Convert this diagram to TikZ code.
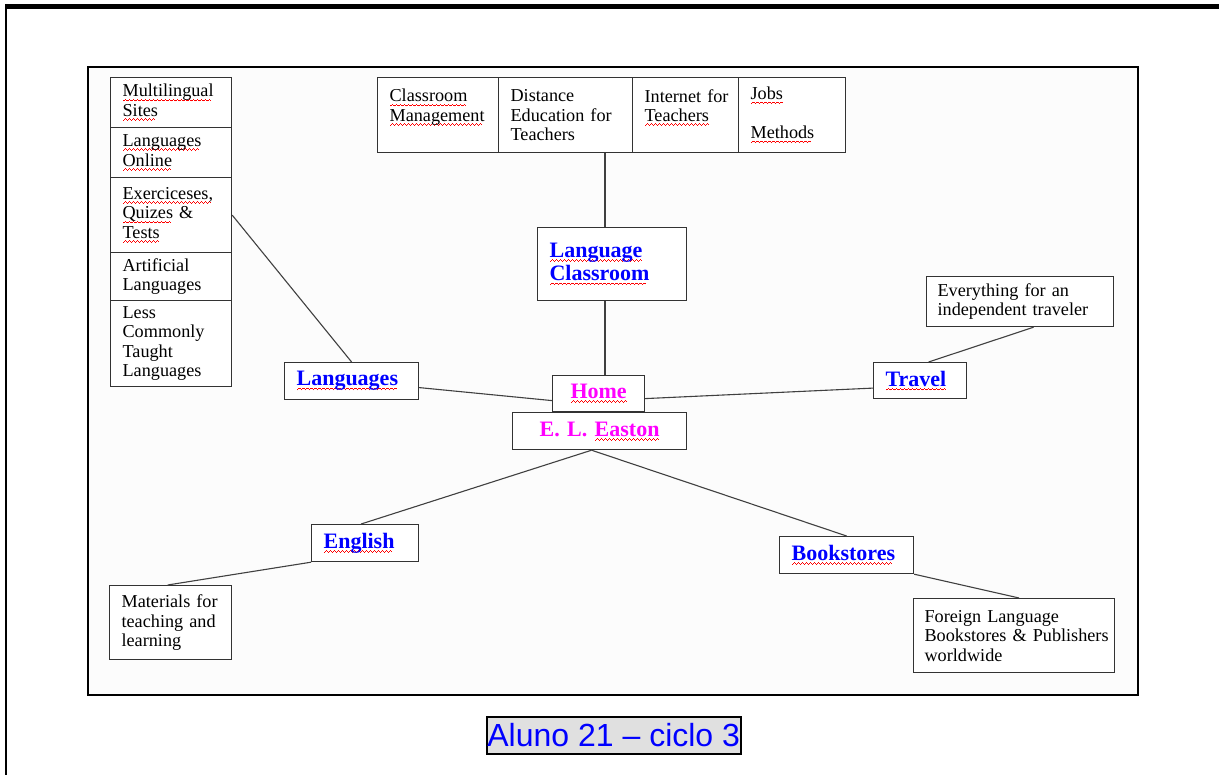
\documentclass[tikz,border=0pt]{standalone}
\usepackage{fontspec}
\setmainfont{Liberation Serif}
\newfontfamily\capfont{Liberation Sans}
\usetikzlibrary{calc}
% red wavy underline (spell-check mark), built from small rules
\newsavebox\sqbox
\newcommand\wavecell{\hbox{%
  \rule[-4.4pt]{1pt}{1pt}\rule[-3.6pt]{1pt}{1pt}\rule[-2.8pt]{1pt}{1pt}\rule[-3.6pt]{1pt}{1pt}}}
\newcommand\sq[1]{\leavevmode\sbox\sqbox{#1}%
  \rlap{\hbox to\wd\sqbox{\color{red}\leaders\wavecell\hfil}}\usebox\sqbox}
\newcommand\smallfont{\fontsize{18.2}{19.5}\selectfont}
\newcommand\labfont{\fontsize{22}{23.5}\selectfont\bfseries}
\definecolor{linkblue}{RGB}{0,0,255}
\definecolor{homemag}{RGB}{255,0,255}
\begin{document}
\begin{tikzpicture}[x=1pt,y=-1pt,
  box/.style={draw=black!80, line width=1.2pt, fill=white, inner xsep=12pt,
    inner ysep=0pt, anchor=north west, align=left, font=\smallfont},
  lab/.style={box, font=\labfont, text=linkblue},
  hub/.style={box, font=\labfont, text=homemag, align=center},
  link/.style={draw=black!75, line width=1.1pt},
  caption/.style={draw=black, line width=2pt, fill=black!12, inner sep=0pt,
    minimum width=254pt, minimum height=37.6pt, anchor=north west,
    font=\capfont\fontsize{32}{34}\selectfont, text=linkblue}]
\useasboundingbox (0,0) rectangle (1219,775);
% page edges
\fill (5,4) rectangle (1219,9);
\draw[line width=2pt] (6,4) -- (6,775);
% frame of the map
\draw[line width=2pt, fill=white!99!black] (88,67) rectangle (1138,695);

% left stack of language topics
\node[box, text width=97pt, minimum height=50pt] (ls1) at (110,77) {\sq{Multilingual}\\\sq{Sites}};
\node[box, text width=97pt, minimum height=50pt] (ls2) at (110,127) {\sq{Languages}\\\sq{Online}};
\node[box, text width=97pt, minimum height=75pt] (ls3) at (110,177) {\sq{Exerciceses,}\\\sq{Quizes} \&\\\sq{Tests}};
\node[box, text width=97pt, minimum height=48pt] (ls4) at (110,252) {Artificial\\Languages};
\node[box, text width=97pt, minimum height=86pt] (ls5) at (110,300) {Less\\Commonly\\Taught\\Languages};

% top row of classroom topics
\node[box, text width=97pt, minimum height=75pt] (t1) at (377,77) {\sq{Classroom}\\\sq{Management}\\\mbox{}};
\node[box, text width=110pt, minimum height=75pt] (t2) at (498,77) {Distance\\Education~for\\Teachers};
\node[box, text width=82pt, minimum height=75pt] (t3) at (632,77) {\mbox{Internet for}\\\sq{Teachers}\\\mbox{}};
\node[box, text width=83pt, minimum height=75pt] (t4) at (738,77) {\sq{Jobs}\\\mbox{}\\\sq{Methods}};

% main labels
\node[lab, text width=125pt, minimum height=73pt] (lc) at (537,227) {\sq{Language}\\\sq{Classroom}};
\node[hub, text width=68pt, minimum height=36pt] (home) at (552,375) {\sq{Home}};
\node[hub, text width=150pt, minimum height=37pt] (easton) at (512,412) {E.~L.~\sq{Easton}};
\node[lab, text width=110pt, minimum height=37pt] (lang) at (284,362) {\sq{Languages}};
\node[lab, text width=69pt, minimum height=36pt] (travel) at (873,362) {\sq{Travel}};
\node[lab, text width=83pt, minimum height=37pt] (english) at (311,524) {\sq{English}};
\node[lab, text width=110pt, minimum height=37pt] (books) at (779,536) {\sq{Bookstores}};

% leaf descriptions
\node[box, inner xsep=11pt, text width=165pt, minimum height=50pt] (every) at (926,276) {Everything~for~an\\independent~traveler};
\node[box, text width=98pt, minimum height=74pt] (mat) at (109,585) {Materials~for\\teaching~and\\learning};
\node[box, inner xsep=11pt, text width=179pt, minimum height=74pt] (foreign) at (913,598) {Foreign~Language\\\mbox{Bookstores \& Publishers}\\worldwide};

% connectors
\coordinate (spine) at (605,0);
\coordinate (root) at ($(easton.south)+(-8,0)$);
\draw[link] (spine |- t2.south) -- (spine |- lc.north);
\draw[link] (spine |- lc.south) -- (spine |- home.north);
\draw[link] (ls3.east) -- (lang.north);
\draw[link] ($(lang.east)+(0,6.5)$) -- ($(home.west)+(0,7)$);
\draw[link] ($(home.east)+(0,5)$) -- ($(travel.west)+(0,7.5)$);
\draw[link] ($(travel.north)+(8.5,0)$) -- ($(every.south)+(13.5,0)$);
\draw[link] (root) -- ($(english.north)+(-4,0)$);
\draw[link] (root) -- (books.north);
\draw[link] (english.south west) -- ($(mat.north)+(-3,0)$);
\draw[link] (books.south east) -- ($(foreign.north)+(5,0)$);

% caption
\node[caption] (cap) at (485.7,715.7) {Aluno 21 \textendash{} ciclo 3};
\end{tikzpicture}
\end{document}
